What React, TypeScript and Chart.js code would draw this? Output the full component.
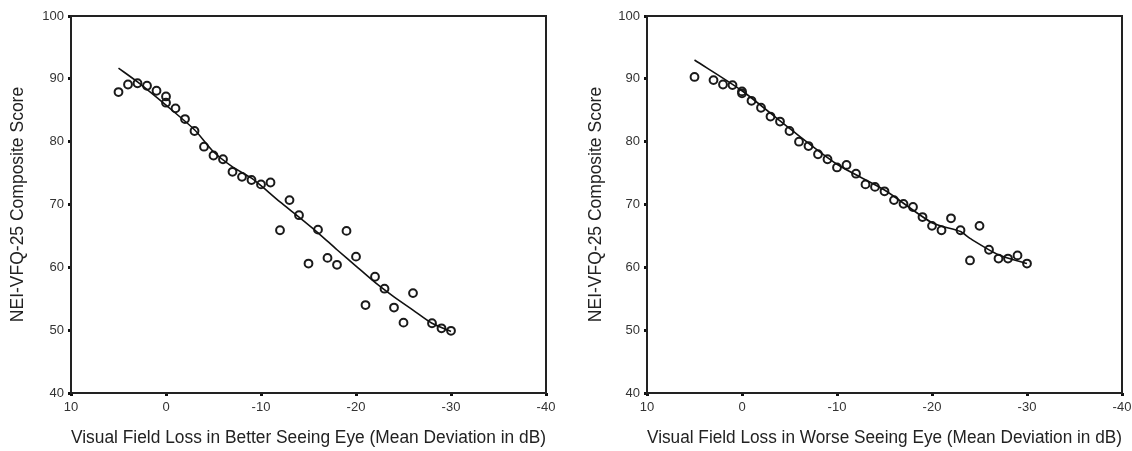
import React, { useEffect, useRef } from "react";
import { Chart, registerables } from "chart.js";

Chart.register(...registerables);

const xTicks = [10, 0, -10, -20, -30, -40];
const yTicks = [40, 50, 60, 70, 80, 90, 100];

const betterX = [5, 4, 3, 2, 1, 0, 0, -1, -2, -3, -4, -5, -6, -7, -8, -9, -10, -11, -12, -13, -14, -15, -16, -17, -18, -19, -20, -21, -22, -23, -24, -25, -26, -28, -29, -30];
const betterY = [87.9, 89.1, 89.3, 88.9, 88.1, 87.2, 86.2, 85.3, 83.6, 81.7, 79.2, 77.8, 77.2, 75.2, 74.4, 73.9, 73.2, 73.5, 65.9, 70.7, 68.3, 60.6, 66.0, 61.5, 60.4, 65.8, 61.7, 54.0, 58.5, 56.6, 53.6, 51.2, 55.9, 51.1, 50.3, 49.9];
const betterFitX = [5, 3, 0, -3, -5, -7, -9, -10, -12, -14, -16, -18, -20, -22, -24, -26, -28, -30];
const betterFitY = [91.7, 89.5, 85.8, 81.9, 78.4, 76.0, 74.2, 73.0, 70.4, 68.0, 65.5, 62.8, 60.2, 57.6, 55.3, 53.2, 51.1, 49.8];

const worseX = [5, 3, 2, 1, 0, 0, -1, -2, -3, -4, -5, -6, -7, -8, -9, -10, -11, -12, -13, -14, -15, -16, -17, -18, -19, -20, -21, -22, -23, -24, -25, -26, -27, -28, -29, -30];
const worseY = [90.3, 89.8, 89.1, 89.0, 88.0, 87.7, 86.5, 85.4, 84.0, 83.2, 81.7, 80.0, 79.3, 78.0, 77.2, 75.9, 76.3, 74.9, 73.2, 72.8, 72.1, 70.7, 70.1, 69.6, 68.0, 66.6, 65.9, 67.8, 65.9, 61.1, 66.6, 62.8, 61.4, 61.4, 61.9, 60.6];
const worseFitX = [5, 0, -5, -10, -15, -20, -23, -24, -27, -30];
const worseFitY = [93.0, 88.1, 82.1, 76.4, 72.3, 67.1, 65.7, 64.6, 62.0, 60.6];

const yTitle = "NEI-VFQ-25 Composite Score";
const betterTitle = "Visual Field Loss in Better Seeing Eye (Mean Deviation in dB)";
const worseTitle = "Visual Field Loss in Worse Seeing Eye (Mean Deviation in dB)";

const FONT = "'Liberation Sans', Arial, sans-serif";

const framePlugin = {
  id: "frame",
  afterDraw(chart: any) {
    const { ctx, chartArea } = chart;
    ctx.save();
    ctx.strokeStyle = "#222";
    ctx.lineWidth = 2;
    ctx.strokeRect(chartArea.left, chartArea.top, chartArea.right - chartArea.left, chartArea.bottom - chartArea.top);
    ctx.restore();
  },
};

function ScatterPanel(props: {
  xs: number[];
  ys: number[];
  fx: number[];
  fy: number[];
  xTitle: string;
  yWidth: number;
  yTitlePad: number;
  padRight: number;
  left: number;
}) {
  const ref = useRef<HTMLCanvasElement | null>(null);
  useEffect(() => {
    if (!ref.current) return;
    const pts = props.xs.map((x, i) => ({ x, y: props.ys[i] }));
    const fit = props.fx.map((x, i) => ({ x, y: props.fy[i] }));
    const chart = new Chart(ref.current, {
      type: "scatter",
      data: {
        datasets: [
          {
            data: fit,
            showLine: true,
            borderColor: "#111",
            borderWidth: 1.6,
            pointRadius: 0,
            tension: 0.25,
            fill: false,
          },
          {
            data: pts,
            showLine: false,
            pointRadius: 3.9,
            pointBorderWidth: 2,
            pointBorderColor: "#1a1a1a",
            pointBackgroundColor: "rgba(0,0,0,0)",
          },
        ],
      },
      options: {
        responsive: false,
        animation: false,
        events: [],
        layout: { padding: { top: 16, right: props.padRight, left: 0, bottom: 0 } },
        plugins: { legend: { display: false }, tooltip: { enabled: false } },
        scales: {
          x: {
            type: "linear",
            reverse: true,
            min: -40,
            max: 10,
            afterBuildTicks: (s: any) => {
              s.ticks = xTicks.map((v) => ({ value: v }));
            },
            afterFit: (s: any) => {
              s.height = 58;
              s.paddingLeft = 0;
              s.paddingRight = 0;
            },
            grid: { drawOnChartArea: false, tickLength: 3, tickWidth: 3, tickColor: "#111" },
            border: { display: false },
            ticks: { color: "#333", font: { family: FONT, size: 13 }, padding: 4, maxRotation: 0 },
            title: {
              display: true,
              text: props.xTitle,
              color: "#222",
              font: { family: FONT, size: 17.5 },
              padding: { top: 0, bottom: 2 },
            },
          },
          y: {
            type: "linear",
            min: 40,
            max: 100,
            afterBuildTicks: (s: any) => {
              s.ticks = yTicks.map((v) => ({ value: v }));
            },
            afterFit: (s: any) => {
              s.width = props.yWidth;
              s.paddingTop = 0;
              s.paddingBottom = 0;
            },
            grid: { drawOnChartArea: false, tickLength: 3, tickWidth: 3, tickColor: "#111" },
            border: { display: false },
            ticks: { color: "#333", font: { family: FONT, size: 13 }, padding: 4 },
            title: {
              display: true,
              text: yTitle,
              color: "#222",
              font: { family: FONT, size: 17.5 },
              padding: { top: props.yTitlePad, bottom: 0 },
            },
          },
        },
      },
      plugins: [framePlugin],
    });
    return () => chart.destroy();
  }, []);
  return (
    <canvas
      ref={ref}
      width={566}
      height={451}
      style={{ position: "absolute", left: props.left, top: 0, width: 566, height: 451 }}
    />
  );
}

export default function App() {
  return (
    <div style={{ position: "absolute", left: 0, top: 0, width: 1132, height: 451, background: "#fff", overflow: "hidden" }}>
      <ScatterPanel xs={betterX} ys={betterY} fx={betterFitX} fy={betterFitY} xTitle={betterTitle} yWidth={71} yTitlePad={7.5} padRight={20} left={0} />
      <ScatterPanel xs={worseX} ys={worseY} fx={worseFitX} fy={worseFitY} xTitle={worseTitle} yWidth={81} yTitlePad={19.5} padRight={10} left={566} />
    </div>
  );
}
